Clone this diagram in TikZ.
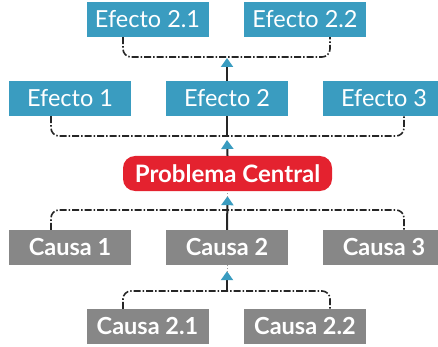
\documentclass[tikz,border=0pt]{standalone}
\usepackage{fontspec}
\setmainfont{Lato}
\usetikzlibrary{arrows.meta}

\definecolor{efblue}{HTML}{3A9CC0}
\definecolor{pcred}{HTML}{E4222F}
\definecolor{cagray}{HTML}{878787}

\tikzset{
  efbox/.style={fill=efblue, text=white, minimum width=122pt, minimum height=35pt, inner sep=0pt, font=\fontsize{23.5}{26}\selectfont},
  cabox/.style={fill=cagray, text=white, minimum width=122pt, minimum height=35pt, inner sep=0pt, font=\fontsize{23.5}{26}\selectfont\bfseries},
  pcbox/.style={fill=pcred, text=white, rounded corners=12pt, minimum width=209pt, minimum height=35pt, inner sep=0pt, font=\fontsize{24}{26}\selectfont\bfseries},
  bracket/.style={line width=1.6pt, black!85, rounded corners=8pt, dash pattern=on 7pt off 2pt on 1.5pt off 2pt},
  stem/.style={line width=2pt, black!85},
  link/.style={stem, -{Triangle[width=12pt,length=9pt,color=efblue,fill=efblue]}},
  faint/.style={line width=0.6pt, black!40, dotted}
}

\begin{document}
\begin{tikzpicture}[x=1pt,y=-1pt]
\clip (0,0) rectangle (438,347); % page

% boxes
\node[efbox] (e21) at (147.5,19.5) {Efecto 2.1};
\node[efbox] (e22) at (305,19.5) {Efecto 2.2};
\node[efbox] (e1) at (70,98.5) {Efecto 1};
\node[efbox] (e2) at (227,98.5) {Efecto 2};
\node[efbox] (e3) at (384,98.5) {Efecto 3};
\node[pcbox] (pc) at (227.5,173.5) {Problema Central};
\node[cabox] (c1) at (70,247.5) {Causa 1};
\node[cabox] (c2) at (227,247.5) {Causa 2};
\node[cabox] (c3) at (384,247.5) {Causa 3};
\node[cabox] (c21) at (147.5,326.5) {Causa 2.1};
\node[cabox] (c22) at (305,326.5) {Causa 2.2};

% junctions
\coordinate (j0) at (227,57);
\coordinate (j1) at (227,136);
\coordinate (j3) at (227,210);
\coordinate (j4) at (227,291);

% causes 2.x
\draw[bracket] ([xshift=-24.5pt]c21.north) |- (j4) -| ([xshift=25pt]c22.north);
\draw[link] (j4) -- ([yshift=-6pt]c2.south);
\draw[faint] ([yshift=-6pt]c2.south) -- (c2.south);

% causes
\draw[bracket] ([xshift=-19pt]c1.north) |- (j3) -| ([xshift=20pt]c3.north);
\draw[link] (c2.north) -- ([yshift=-5pt]pc.south);
\draw[faint] ([yshift=-5pt]pc.south) -- (pc.south);

% effects
\draw[link] (pc.north) -- ([yshift=-4pt]j1);
\draw[stem] (e2.south) -- (j1);
\draw[bracket] ([xshift=-19pt]e1.south) |- (j1) -| ([xshift=20pt]e3.south);

% effects 2.x
\draw[link] (e2.north) -- ([yshift=-1pt]j0);
\draw[bracket] ([xshift=-24.5pt]e21.south) |- (j0) -| ([xshift=25pt]e22.south);

\end{tikzpicture}
\end{document}
